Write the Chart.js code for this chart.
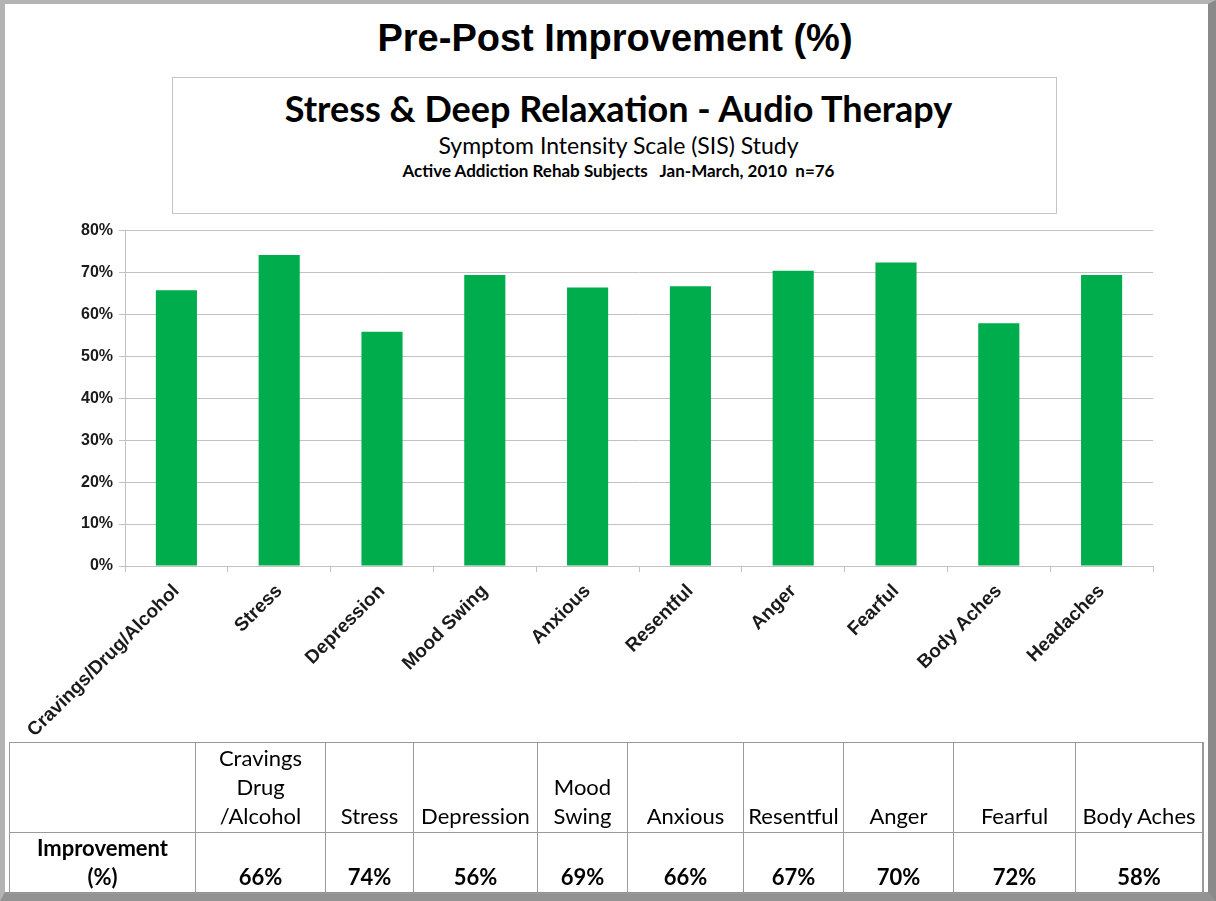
<!DOCTYPE html>
<html>
<head>
<meta charset="utf-8">
<script src="https://cdn.jsdelivr.net/npm/chart.js@4.4.1/dist/chart.umd.min.js"></script>
<style>
  html, body { margin: 0; padding: 0; background: #fff; }
  #page { position: relative; width: 1216px; height: 901px; overflow: hidden; background: #fff; }
  #frame {
    position: absolute; left: 0; top: 0; width: 1216px; height: 901px; box-sizing: border-box;
    border-left: 5px solid #b4b4b4; border-top: 4px solid #b4b4b4;
    border-right: 8px solid #8a8a8a; border-bottom: 9px solid #939393;
  }
  #title {
    position: absolute; left: 0; top: 17px; width: 1216px; text-align: center;
    font: bold 38px "Liberation Sans", Arial, sans-serif; color: #000;
    padding-left: 14px; box-sizing: border-box;
  }
  #box {
    position: absolute; left: 172px; top: 77px; width: 885px; height: 137px; box-sizing: border-box;
    border: 1px solid #c4c4c4; text-align: center; font-family: Lato, "Open Sans", sans-serif; color: #000;
  }
  #box .l1 { position: absolute; left: 0; right: 0; top: 8px; font-weight: bold; font-size: 36px; padding-left: 8px; }
  #box .l2 { position: absolute; left: 0; right: 0; top: 53px; font-size: 23px; padding-left: 8px; }
  #box .l3 { position: absolute; left: 0; right: 0; top: 82px; font-size: 17px; font-weight: bold; white-space: pre; padding-left: 8px; }
  #chart { position: absolute; left: 0; top: 215px; }
  #tbl {
    position: absolute; left: 9px; top: 742px; border-collapse: collapse; table-layout: fixed;
    font-family: Lato, "Open Sans", sans-serif; font-size: 22px; color: #000;
  }
  #tbl td { border: 1px solid #9a9a9a; text-align: center; vertical-align: bottom; padding: 0 0 2px 0; line-height: 29px; white-space: nowrap; }
  #tbl tr.h td { height: 86px; }
  #tbl tr.v td { height: 54px; font-weight: bold; }
</style>
</head>
<body>
<div id="page">
  <div id="frame"></div>
  <div id="title">Pre-Post Improvement (%)</div>
  <div id="box">
    <div class="l1">Stress &amp; Deep Relaxation - Audio Therapy</div>
    <div class="l2">Symptom Intensity Scale (SIS) Study</div>
    <div class="l3">Active Addiction Rehab Subjects   Jan-March, 2010  n=76</div>
  </div>
  <canvas id="chart" width="1216" height="530"></canvas>
  <table id="tbl"></table>
</div>
<script>
  // bar chart data (percent improvement)
  const categories = ["Cravings/Drug/Alcohol", "Stress", "Depression", "Mood Swing", "Anxious",
    "Resentful", "Anger", "Fearful", "Body Aches", "Headaches"];
  const improvement = [65.8, 74.2, 55.9, 69.4, 66.4, 66.7, 70.4, 72.4, 57.9, 69.4];
  const yTicks = [0, 10, 20, 30, 40, 50, 60, 70, 80];

  // data table below the chart (Headaches column is cut off in the original)
  const tableHeaders = ["Cravings<br>Drug<br>/Alcohol", "Stress", "Depression", "Mood<br>Swing",
    "Anxious", "Resentful", "Anger", "Fearful", "Body Aches"];
  const tableValues = ["66%", "74%", "56%", "69%", "66%", "67%", "70%", "72%", "58%"];
  const colWidths = [186, 130, 88, 124, 90, 116, 100, 110, 122, 127];

  const GRID = "#c2c2c2";

  new Chart(document.getElementById("chart"), {
    type: "bar",
    data: {
      labels: categories,
      datasets: [{
        data: improvement,
        backgroundColor: "#00ad4d",
        borderWidth: 0,
        barPercentage: 0.4,
        categoryPercentage: 1.0
      }]
    },
    options: {
      responsive: false,
      animation: false,
      layout: { padding: { left: 0, right: 63, top: 10, bottom: 0 } },
      plugins: { legend: { display: false }, tooltip: { enabled: false } },
      scales: {
        x: {
          grid: { offset: true, drawOnChartArea: false, drawTicks: true, tickLength: 6, color: GRID },
          border: { color: GRID },
          ticks: {
            minRotation: 45, maxRotation: 45, autoSkip: false, padding: 8,
            color: "#1a1a1a",
            font: { family: "Liberation Sans, Arial", size: 19, weight: "bold" }
          },
          afterFit(s) { s.height = 179; }
        },
        y: {
          min: 0, max: 80,
          afterBuildTicks(s) { s.ticks = yTicks.map(v => ({ value: v })); },
          grid: { color: GRID, tickLength: 6 },
          border: { color: GRID },
          ticks: {
            padding: 6, color: "#1a1a1a",
            font: { family: "Liberation Sans, Arial", size: 16, weight: "bold" },
            callback: v => v + "%"
          },
          afterFit(s) { s.width = 125; }
        }
      }
    }
  });

  const tbl = document.getElementById("tbl");
  let html = "<colgroup>" + colWidths.map(w => `<col style="width:${w}px">`).join("") + "</colgroup>";
  html += '<tr class="h"><td></td>' + tableHeaders.map(h => `<td>${h}</td>`).join("") + '<td></td></tr>';
  html += '<tr class="v"><td>Improvement<br>(%)</td>' + tableValues.map(v => `<td>${v}</td>`).join("") + '<td></td></tr>';
  tbl.innerHTML = html;
</script>
</body>
</html>
